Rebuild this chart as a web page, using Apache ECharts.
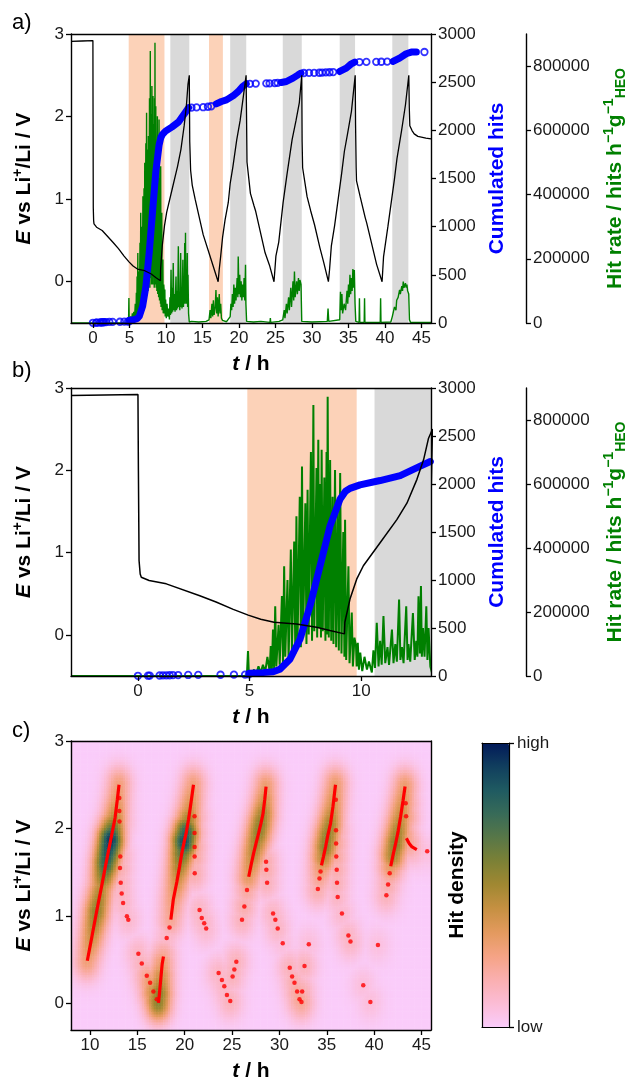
<!DOCTYPE html>
<html><head><meta charset="utf-8">
<script src="https://cdn.jsdelivr.net/npm/echarts@6/dist/echarts.min.js"></script>
<style>html,body{margin:0;padding:0;background:#fff}#c{width:634px;height:1078px}</style>
</head><body><div id="c"></div>
<script>
// ---------------- DATA ----------------
// Bands (t / h)
const orangeBands = [[4.9, 9.8], [15.9, 17.8]];
const grayBands = [[10.6, 13.2], [18.8, 21.0], [26.0, 28.6], [33.8, 35.9], [41.0, 43.2]];

// Potential E vs Li+/Li (t / h, V)
const voltage = [
  [-3,2.91],[-1.5,2.915],[0,2.92],[0.02,2.0],[0.05,0.9],[0.1,0.74],[0.15,0.70],[0.5,0.66],[1.27,0.62],[2.77,0.475],[3.5,0.40],[4.27,0.31],[4.94,0.24],[5.5,0.19],[6.1,0.153],[7.1,0.133],[8.0,0.093],[8.6,0.052],[9.25,0.012],[9.27,0.153],[9.5,0.435],[9.8,0.677],[10.1,0.84],[10.85,1.12],[11.6,1.40],[12.05,1.60],[12.5,1.89],[12.8,2.13],[13.02,2.39],[13.2,2.5],
  [13.26,1.7],[13.38,1.35],[13.6,1.17],[14.0,1.0],[15.1,0.57],[16.0,0.32],[17.15,0.0],
  [17.3,0.15],[17.5,0.31],[17.76,0.54],[18.1,0.75],[18.54,0.96],[18.8,1.19],[19.17,1.39],[19.7,1.72],[20.16,1.95],[20.58,2.23],[20.98,2.5],
  [21.04,2.0],[21.1,1.45],[21.57,1.07],[22.06,0.92],[22.27,0.86],[23.58,0.35],[24.18,0.2],[24.8,0.0],
  [25.06,0.31],[25.45,0.48],[26.05,0.96],[26.58,1.30],[27.28,1.72],[27.81,1.95],[28.27,2.17],[28.6,2.5],
  [28.65,1.7],[28.72,1.38],[29.33,1.03],[29.82,0.86],[30.35,0.69],[31.09,0.41],[31.59,0.24],[32.25,0.0],
  [32.4,0.14],[32.65,0.43],[33.1,0.68],[34.06,1.31],[34.44,1.58],[34.87,1.79],[35.4,2.06],[35.92,2.5],
  [35.97,1.9],[36.05,1.38],[36.1,1.22],[36.6,1.03],[37.28,0.78],[37.5,0.71],[38.85,0.21],[39.6,0.0],
  [39.8,0.3],[40.4,0.67],[41.29,1.24],[41.64,1.49],[42.27,1.83],[42.8,2.14],[43.26,2.5],
  [43.33,2.1],[43.4,1.89],[43.7,1.83],[44.0,1.79],[44.5,1.76],[45.6,1.74],[46.3,1.73]
];

// Hit rate (t / h, thousands of hits h^-1 g^-1)
const hitRateK = [
  [-3,0],[4.88,0],[4.9,2],[4.93,78],[4.97,5],[5.1,8],[5.2,20],[5.3,6],[5.4,30],[5.5,10],[5.6,35],[5.7,12],[5.8,60],[5.9,15],[5.95,94],[6.0,20],[6.05,145],[6.1,25],[6.15,218],[6.2,30],[6.3,160],[6.35,35],[6.45,250],[6.5,40],[6.55,343],[6.6,60],[6.7,300],[6.75,50],[6.85,395],[6.9,80],[7.0,420],[7.05,70],[7.1,499],[7.15,100],[7.25,560],[7.3,90],[7.35,655],[7.4,120],[7.5,540],[7.55,100],[7.6,582],[7.65,130],[7.75,700],[7.8,110],[7.86,847],[7.9,140],[8.0,650],[8.03,120],[8.08,738],[8.12,150],[8.18,600],[8.2,120],[8.23,707],[8.28,140],[8.35,620],[8.4,110],[8.45,700],[8.47,130],[8.5,873],[8.55,120],[8.61,675],[8.66,110],[8.72,560],[8.76,100],[8.83,644],[8.88,90],[8.95,520],[9.0,80],[9.06,634],[9.12,70],[9.2,450],[9.25,60],[9.28,488],[9.33,50],[9.43,343],[9.48,40],[9.58,198],[9.63,30],[9.7,120],[9.77,94],[9.8,30],[9.85,104],[9.9,20],[9.96,73],[10.05,15],[10.15,60],[10.26,20],[10.35,45],[10.48,11],[10.55,80],[10.62,25],[10.7,166],[10.78,30],[10.85,110],[10.92,35],[11.0,187],[11.08,40],[11.18,90],[11.25,35],[11.38,145],[11.45,40],[11.53,100],[11.6,45],[11.7,239],[11.76,50],[11.83,90],[11.9,40],[12.02,218],[12.08,50],[12.12,100],[12.2,45],[12.32,197],[12.4,50],[12.47,110],[12.52,60],[12.57,249],[12.63,70],[12.68,281],[12.72,60],[12.77,150],[12.84,60],[12.92,218],[12.97,50],[13.02,150],[13.1,30],[13.2,3],
  [13.5,5],[14.5,3],[15.5,5],[15.9,10],[16.05,40],[16.15,15],[16.3,60],[16.4,20],[16.5,71],[16.6,25],[16.75,50],[16.85,103],[16.95,30],[17.05,80],[17.15,20],[17.3,90],[17.4,30],[17.5,60],[17.6,15],[17.75,8],[18.3,4],
  [18.8,20],[18.9,60],[19.0,40],[19.1,90],[19.2,50],[19.3,120],[19.4,60],[19.5,110],[19.6,70],[19.75,140],[19.85,80],[19.9,207],[20.0,90],[20.1,150],[20.2,80],[20.3,130],[20.4,70],[20.5,120],[20.6,80],[20.7,140],[20.8,70],[20.9,181],[20.95,60],[21.05,5],
  [22,3],[23,5],[24.25,2],[24.3,15],[24.35,2],[25.5,5],
  [26.0,10],[26.2,40],[26.3,15],[26.5,60],[26.6,30],[26.8,80],[26.9,40],[27.1,110],[27.2,50],[27.4,130],[27.5,70],[27.6,160],[27.7,80],[27.9,130],[28.0,90],[28.15,140],[28.25,100],[28.35,134],[28.5,120],[28.6,5],
  [30,3],[32.1,5],[32.2,45],[32.3,5],
  [33.8,10],[33.9,97],[34.0,40],[34.1,90],[34.2,30],[34.4,60],[34.6,40],[34.8,100],[34.9,60],[35.0,120],[35.1,80],[35.2,150],[35.3,90],[35.4,140],[35.5,100],[35.6,168],[35.7,110],[35.8,165],[35.9,60],[36.0,5],
  [36.45,2],[36.5,77],[36.55,2],[37.15,2],[37.2,77],[37.25,2],[39.35,2],[39.4,77],[39.45,2],
  [40.8,3],[41.0,20],[41.3,50],[41.5,40],[41.6,71],[41.8,80],[42.0,103],[42.1,90],[42.3,115],[42.4,100],[42.5,129],[42.6,110],[42.8,124],[42.9,110],[43.0,120],[43.1,100],[43.25,90],[43.35,10],[43.5,2],[46.3,2]
];

// Cumulated hits: dense stretches (t / h, hits)
const cumDense = [
  [[5.0,28],[5.6,35],[6.06,45],[6.36,70],[6.81,174],[7.26,383],[7.71,731],[8.16,1148],[8.61,1566],[9.06,1845],[9.3,1925],[9.5,1955],[9.95,1991],[10.85,2036],[11.75,2088],[12.65,2186],[13.1,2234]],
  [[16.9,2275],[17.6,2299],[18.3,2316],[19.2,2358],[19.9,2403],[20.5,2455],[21.0,2483]],
  [[25.8,2497],[26.5,2507],[27.4,2542],[28.1,2576],[28.5,2594]],
  [[33.8,2611],[34.7,2646],[35.4,2691],[35.85,2708]],
  [[41.1,2715],[42.0,2750],[42.9,2795],[43.6,2812],[44.3,2812]]
];
// Cumulated hits: isolated circles
const cumCircles = [
  [0.0,2],[0.45,3],[0.53,4],[0.97,5],[1.12,6],[1.27,7],[1.42,8],[1.57,9],[1.8,10],[2.25,11],[2.7,12],[3.7,13],[4.3,14],[4.8,15],[4.97,17],
  [13.5,2236],[14.2,2238],[15.1,2240],[15.75,2245],[16.2,2250],
  [21.5,2483],[22.3,2485],[23.75,2487],[24.2,2488],[24.9,2490],[25.3,2492],
  [28.9,2595],[29.6,2596],[30.3,2597],[31.0,2598],[31.4,2600],[31.9,2601],[32.4,2603],[32.9,2605],
  [36.5,2709],[37.45,2710],[38.8,2711],[39.5,2712],[40.3,2713],[45.4,2813]
];

// Panel c: hits on the E(t) curve [t, E, hit-density level 0..1]
const redLines = [
  [[9.72,0.49,0.28],[10.18,0.75,0.4],[10.7,1.05,0.55],[11.23,1.34,0.45],[11.69,1.60,0.78],[12.19,1.87,0.95],[12.65,2.12,0.45],[12.89,2.33,0.32],[13.07,2.50,0.27]],
  [[17.23,0.01,0.55],[17.34,0.12,0.55],[17.5,0.31,0.4],[17.62,0.45,0.3],[17.76,0.54,0.22]],
  [[18.54,0.96,0.22],[18.8,1.19,0.28],[19.17,1.39,0.38],[19.45,1.56,0.5],[19.7,1.72,0.65],[19.95,1.85,0.88],[20.16,1.95,0.8],[20.4,2.1,0.5],[20.58,2.23,0.38],[20.93,2.50,0.27]],
  [[26.76,1.45,0.32],[27.0,1.58,0.38],[27.28,1.72,0.45],[27.55,1.84,0.5],[27.81,1.95,0.55],[28.05,2.06,0.55],[28.27,2.17,0.5],[28.45,2.33,0.38],[28.59,2.48,0.3]],
  [[34.44,1.58,0.32],[34.65,1.68,0.45],[34.87,1.79,0.55],[35.1,1.92,0.55],[35.4,2.06,0.5],[35.65,2.25,0.38],[35.92,2.50,0.3]],
  [[41.75,1.57,0.32],[42.0,1.7,0.5],[42.27,1.83,0.55],[42.55,1.98,0.5],[42.8,2.14,0.42],[43.05,2.32,0.35],[43.26,2.48,0.3]],
  [[43.4,1.89,0.27],[43.7,1.83,0.22],[44.0,1.79,0.16],[44.5,1.76,0.1]]
];
const redDots = [
  [13.1,2.35,0.22],[13.1,2.2,0.22],[13.12,2.08,0.22],[13.2,1.68,0.17],[13.17,1.55,0.17],[13.25,1.38,0.14],[13.35,1.26,0.13],[13.5,1.15,0.12],[13.9,1.0,0.1],[14.05,0.96,0.1],
  [15.11,0.57,0.12],[15.47,0.46,0.14],[16.0,0.32,0.22],[16.35,0.24,0.3],[16.7,0.14,0.4],[17.05,0.05,0.5],
  [18.1,0.75,0.12],[18.4,0.87,0.14],
  [21.04,2.14,0.22],[21.04,1.95,0.22],[21.05,1.79,0.22],[21.05,1.68,0.2],[21.06,1.49,0.17],[21.57,1.07,0.12],[21.8,0.98,0.12],[22.06,0.92,0.12],[22.27,0.86,0.1],
  [23.58,0.35,0.12],[23.93,0.27,0.12],[24.18,0.2,0.12],[24.46,0.1,0.12],[24.81,0.03,0.14],
  [25.06,0.31,0.14],[25.24,0.39,0.14],[25.45,0.48,0.14],[26.05,0.96,0.14],[26.3,1.11,0.17],[26.58,1.30,0.2],
  [28.59,1.62,0.17],[28.62,1.53,0.17],[28.7,1.38,0.14],[29.33,1.03,0.12],[29.57,0.96,0.12],[29.82,0.86,0.12],[30.35,0.69,0.07],
  [31.09,0.41,0.14],[31.34,0.31,0.14],[31.59,0.24,0.17],[31.87,0.14,0.2],[32.12,0.05,0.22],[32.33,0.02,0.22],
  [32.4,0.14,0.17],[32.65,0.43,0.14],[33.1,0.68,0.07],[34.06,1.31,0.17],[34.23,1.43,0.22],[34.34,1.51,0.27],
  [35.95,2.33,0.22],[35.97,1.98,0.22],[35.98,1.83,0.22],[36.0,1.68,0.2],[36.05,1.53,0.17],[36.08,1.38,0.15],[36.15,1.22,0.12],[36.6,1.03,0.1],
  [37.28,0.78,0.12],[37.5,0.71,0.12],[38.85,0.21,0.07],[39.6,0.02,0.07],
  [40.4,0.67,0.06],[41.29,1.24,0.14],[41.47,1.36,0.17],[41.64,1.49,0.22],
  [43.33,2.29,0.27],[43.37,2.14,0.27],[45.6,1.74,0.06]
];

// Tick values
const ticksTA = [0,5,10,15,20,25,30,35,40,45];
const ticksTB = [0,5,10];
const ticksTC = [10,15,20,25,30,35,40,45];
const ticksE = [0,1,2,3];
const ticksRate = [0,200000,400000,600000,800000];
const densityLabels = ['low','high'];

// ---------------- STYLE ----------------
const FONT = '"Liberation Sans", Arial, sans-serif';
const ORANGE = '#FCD2B8', GRAY = '#D9D9D9', GREEN = '#008000', BLUE = '#0000FF';
const BATLOW_R = ['#FACCFA','#FBBCD5','#FAAFB0','#F5A385','#E39A5E','#C69042','#A18832','#7C8136','#587747','#386B58','#1F5A61','#113F5E','#011959'];
function rich(color){
  return {
    b:{fontFamily:FONT,fontSize:21,fontWeight:'bold',lineHeight:26,color},
    bi:{fontFamily:FONT,fontSize:21,fontWeight:'bold',fontStyle:'italic',lineHeight:26,color},
    sup:{fontFamily:FONT,fontSize:14,fontWeight:'bold',lineHeight:14,verticalAlign:'top',color},
    sub:{fontFamily:FONT,fontSize:14,fontWeight:'bold',lineHeight:14,verticalAlign:'bottom',color}
  };
}
const AXL = {show:true,onZero:false,lineStyle:{color:'#000',width:1.4}};
const tick = v => ({show:true,inside:false,length:5,lineStyle:{color:'#000',width:1.3},customValues:v});
const lab = (v,extra) => Object.assign({show:true,fontFamily:FONT,fontSize:17,color:'#1a1a1a',margin:7,customValues:v,formatter:x=>String(x)},extra||{});
const lineOnly = {type:'value',z:6,axisLine:AXL,axisTick:{show:false},axisLabel:{show:false},splitLine:{show:false}};
const NAME_E = '{bi|E}{b| vs Li}{sup|+}{b|/Li / V}';
const NAME_T = '{bi|t}{b| / h}';

function xBottom(gi,min,max,ticks){
  return {type:'value',gridIndex:gi,min,max,position:'bottom',z:5,axisLine:AXL,axisTick:tick(ticks),axisLabel:lab(ticks),splitLine:{show:false},
    name:NAME_T,nameLocation:'middle',nameGap:28,nameTextStyle:{rich:rich('#000')}};
}
function xTop(gi,min,max){
  return Object.assign({},lineOnly,{gridIndex:gi,min,max,position:'top'});
}
function yE(gi,min){
  return {type:'value',gridIndex:gi,min,max:3,position:'left',z:5,axisLine:AXL,axisTick:tick(ticksE),axisLabel:lab(ticksE),splitLine:{show:false},
    name:NAME_E,nameLocation:'middle',nameGap:34,nameTextStyle:{rich:rich('#000')}};
}
function yCum(gi){
  return {type:'value',gridIndex:gi,min:0,max:3000,interval:500,position:'right',z:5,axisLine:AXL,
    axisTick:{show:true,length:5,lineStyle:{color:'#000',width:1.3}},axisLabel:lab(undefined,{customValues:undefined}),splitLine:{show:false},
    name:'{b|Cumulated hits}',nameLocation:'middle',nameGap:50,nameTextStyle:{rich:rich(BLUE)}};
}
function yRate(gi){
  return {type:'value',gridIndex:gi,min:0,max:900000,position:'right',offset:95,z:5,axisLine:AXL,axisTick:tick(ticksRate),axisLabel:lab(ticksRate),splitLine:{show:false},
    name:'{b|Hit rate / hits h}{sup|\u22121}{b|g}{sup|\u22121}{sub|HEO}',nameLocation:'middle',nameGap:76,nameTextStyle:{rich:rich(GREEN)}};
}

// ---------------- derived tables ----------------
const bandData = orangeBands.map(b=>[{xAxis:b[0],itemStyle:{color:ORANGE,opacity:1}},{xAxis:b[1]}])
  .concat(grayBands.map(b=>[{xAxis:b[0],itemStyle:{color:GRAY,opacity:1}},{xAxis:b[1]}]));
const rateData = hitRateK.map(p=>[p[0],p[1]*1000]);
const cumLine = [];
cumDense.forEach(seg=>{seg.forEach(p=>cumLine.push(p)); cumLine.push(['-','-']);});
const redLineData = [];
redLines.forEach(seg=>{seg.forEach(p=>redLineData.push([p[0],p[1]])); redLineData.push(['-','-']);});
const redDotData = redDots.map(p=>[p[0],p[1]]);

// hit density grid (kernel smoothing of the hit levels)
const T0=8,T1=46,E0=-0.3,E1=3,NT=152,NE=110;
const dT=(T1-T0)/NT, dE=(E1-E0)/NE, SIG_T=0.95, SIG_E=0.15;
function level(t,E){
  const u=t/SIG_T, v=E/SIG_E; let best=0;
  for(const seg of redLines){
    for(let k=0;k<seg.length-1;k++){
      const a=seg[k],b=seg[k+1];
      const ax=a[0]/SIG_T,ay=a[1]/SIG_E,bx=b[0]/SIG_T,by=b[1]/SIG_E;
      const dx=bx-ax,dy=by-ay,L2=dx*dx+dy*dy;
      let s=((u-ax)*dx+(v-ay)*dy)/L2; s=Math.max(0,Math.min(1,s));
      const px=ax+s*dx-u,py=ay+s*dy-v,d2=px*px+py*py;
      if(d2>14)continue;
      const val=(a[2]+(b[2]-a[2])*s)*Math.exp(-d2/2);
      if(val>best)best=val;
    }
  }
  for(const p of redDots){
    const px=p[0]/SIG_T-u,py=p[1]/SIG_E-v,d2=px*px+py*py;
    if(d2>14)continue;
    const val=p[2]*Math.exp(-d2/2); if(val>best)best=val;
  }
  return best;
}
const heat=[];
for(let i=0;i<NT;i++)for(let j=0;j<NE;j++){heat.push([i,j,level(T0+(i+0.5)*dT,E0+(j+0.5)*dE)]);}
const catT=Array.from({length:NT},(_,i)=>String(i));
const catE=Array.from({length:NE},(_,j)=>String(j));

// ---------------- OPTION ----------------
const grids=[
  {left:71,top:34,width:360,height:289},
  {left:71,top:388,width:360,height:288},
  {left:71,top:741,width:360,height:289},
  {left:482,top:743,width:27,height:284}
].map(g=>Object.assign({outerBoundsMode:'none',containLabel:false},g));

function panelSeries(xi,yiE,yiCum,yiRate,wGreen,wBlack){
  return [
    {type:'line',xAxisIndex:xi,yAxisIndex:yiE,data:[],z:1,silent:true,
      markArea:{silent:true,label:{show:false},data:bandData}},
    {type:'line',xAxisIndex:xi,yAxisIndex:yiRate,data:rateData,z:2,showSymbol:false,silent:true,
      lineStyle:{color:GREEN,width:wGreen},itemStyle:{color:GREEN}},
    {type:'line',xAxisIndex:xi,yAxisIndex:yiCum,data:cumLine,z:3,showSymbol:false,silent:true,connectNulls:false,
      lineStyle:{color:BLUE,width:7,cap:'round',join:'round'},itemStyle:{color:BLUE}},
    {type:'scatter',xAxisIndex:xi,yAxisIndex:yiCum,data:cumCircles,z:3,silent:true,symbol:'circle',symbolSize:6.5,
      itemStyle:{color:'rgba(0,0,0,0)',borderColor:BLUE,borderWidth:1.8}},
    {type:'line',xAxisIndex:xi,yAxisIndex:yiE,data:voltage,z:4,showSymbol:false,silent:true,
      lineStyle:{color:'#000',width:wBlack},itemStyle:{color:'#000'}}
  ];
}

const series=[].concat(
  panelSeries(0,0,1,2,1.4,1.3),
  panelSeries(2,3,4,5,2.0,1.5),
  [
    {type:'heatmap',xAxisIndex:6,yAxisIndex:8,data:heat,z:2,progressive:0,silent:true,
      itemStyle:{borderWidth:0},emphasis:{disabled:true}},
    {type:'line',xAxisIndex:4,yAxisIndex:6,data:redLineData,z:3,showSymbol:false,silent:true,connectNulls:false,
      lineStyle:{color:'#FF0000',width:3.2},itemStyle:{color:'#FF0000'}},
    {type:'scatter',xAxisIndex:4,yAxisIndex:6,data:redDotData,z:3,silent:true,symbol:'circle',symbolSize:4.5,
      itemStyle:{color:'#FF0000'}}
  ]
);
const heatIdx=10;

const option={
  animation:false,
  backgroundColor:'#fff',
  textStyle:{fontFamily:FONT},
  title:[
    {text:'a)',left:12,top:12,padding:0,textStyle:{fontFamily:FONT,fontSize:22,fontWeight:'normal',color:'#000'}},
    {text:'b)',left:12,top:360,padding:0,textStyle:{fontFamily:FONT,fontSize:22,fontWeight:'normal',color:'#000'}},
    {text:'c)',left:12,top:720,padding:0,textStyle:{fontFamily:FONT,fontSize:22,fontWeight:'normal',color:'#000'}}
  ],
  grid:grids,
  xAxis:[
    xBottom(0,-3,46.3,ticksTA), xTop(0,-3,46.3),
    xBottom(1,-3,13.13,ticksTB), xTop(1,-3,13.13),
    xBottom(2,8,46,ticksTC), xTop(2,8,46),
    {type:'category',gridIndex:2,data:catT,show:false,boundaryGap:true,position:'bottom'},
    Object.assign({},lineOnly,{gridIndex:3,min:0,max:1,position:'bottom',axisLine:Object.assign({},AXL,{lineStyle:{color:'#000',width:1.2}})}),
    Object.assign({},lineOnly,{gridIndex:3,min:0,max:1,position:'top',axisLine:Object.assign({},AXL,{lineStyle:{color:'#000',width:1.2}})})
  ],
  yAxis:[
    yE(0,-0.5), yCum(0), yRate(0),
    yE(1,-0.5), yCum(1), yRate(1),
    yE(2,-0.3),
    Object.assign({},lineOnly,{gridIndex:2,min:-0.3,max:3,position:'right'}),
    {type:'category',gridIndex:2,data:catE,show:false,boundaryGap:true,position:'left'},
    {type:'value',gridIndex:3,min:0,max:1,position:'right',z:6,axisLine:Object.assign({},AXL,{lineStyle:{color:'#000',width:1.2}}),
      axisTick:tick([0,1]),axisLabel:lab([0,1],{formatter:v=>densityLabels[v>0.5?1:0],margin:8}),splitLine:{show:false}},
    {type:'value',gridIndex:3,min:0,max:1,position:'left',z:6,axisLine:Object.assign({},AXL,{lineStyle:{color:'#000',width:1.2}}),axisTick:{show:false},axisLabel:{show:false},splitLine:{show:false},
      name:'{b|Hit density}',nameLocation:'middle',nameGap:12,nameTextStyle:{rich:rich('#000')}}
  ],
  visualMap:[{
    type:'continuous',seriesIndex:heatIdx,dimension:2,min:0,max:1,calculable:false,orient:'vertical',
    left:482,top:743,itemWidth:27,itemHeight:284,padding:0,text:null,hoverLink:false,z:4,
    inRange:{color:BATLOW_R}
  }],
  series
};
const chart=echarts.init(document.getElementById('c'),null,{renderer:'canvas'});
chart.setOption(option);
</script></body></html>
